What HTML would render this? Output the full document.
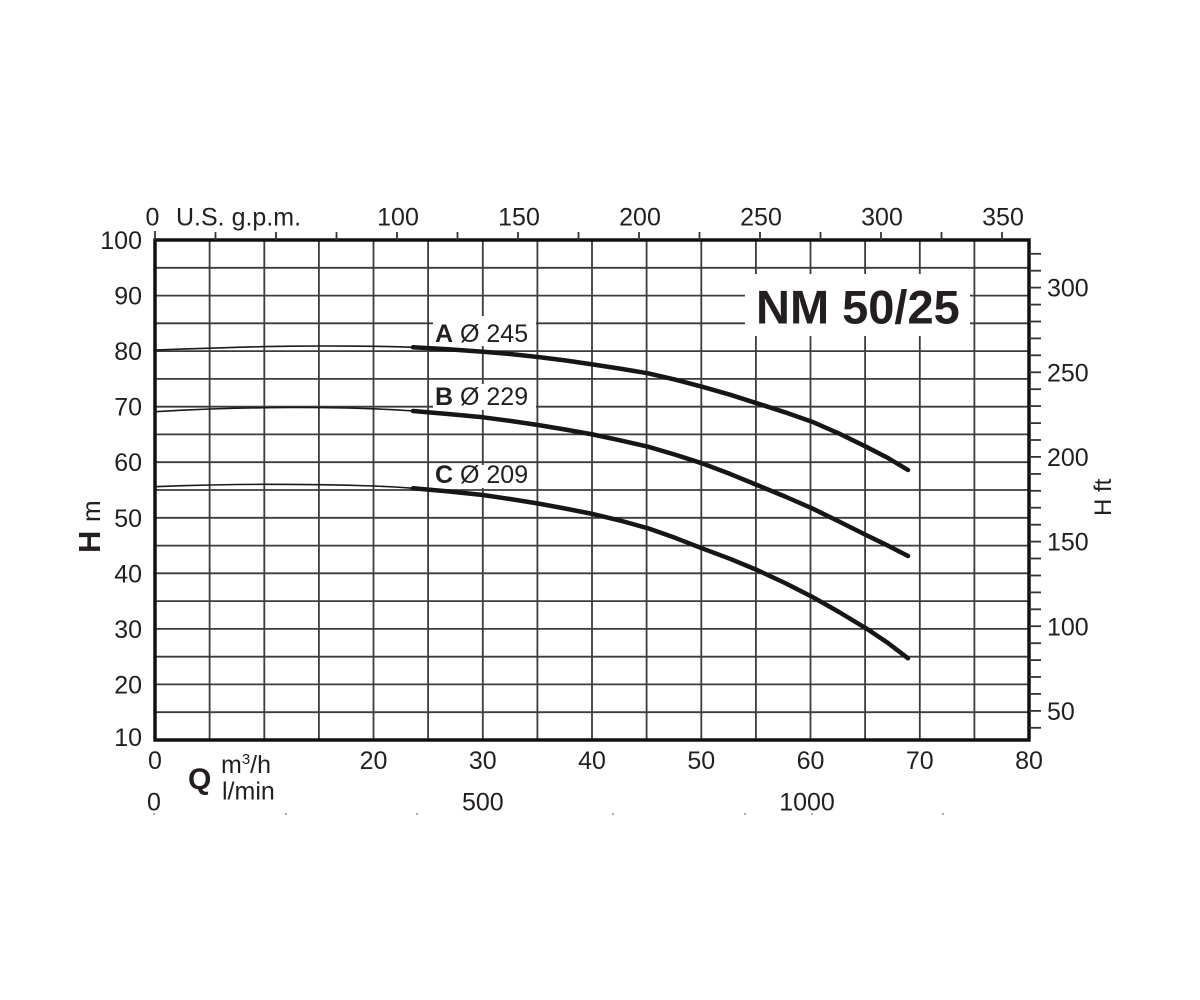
<!DOCTYPE html>
<html>
<head>
<meta charset="utf-8">
<style>
html,body{margin:0;padding:0;background:#fff;}
svg{display:block;}
text{font-family:"Liberation Sans",Arial,sans-serif;fill:#231f20;}
</style>
</head>
<body>
<svg width="1200" height="1000" viewBox="0 0 1200 1000" xmlns="http://www.w3.org/2000/svg">
<rect x="0" y="0" width="1200" height="1000" fill="#fff"/>

<!-- vertical grid lines every 5 m3/h -->
<g stroke="#3c3c3c" stroke-width="1.8">
<line x1="209.6" y1="240" x2="209.6" y2="740"/>
<line x1="264.3" y1="240" x2="264.3" y2="740"/>
<line x1="318.9" y1="240" x2="318.9" y2="740"/>
<line x1="373.5" y1="240" x2="373.5" y2="740"/>
<line x1="428.1" y1="240" x2="428.1" y2="740"/>
<line x1="482.8" y1="240" x2="482.8" y2="740"/>
<line x1="537.4" y1="240" x2="537.4" y2="740"/>
<line x1="592.0" y1="240" x2="592.0" y2="740"/>
<line x1="646.6" y1="240" x2="646.6" y2="740"/>
<line x1="701.3" y1="240" x2="701.3" y2="740"/>
<line x1="755.9" y1="240" x2="755.9" y2="740"/>
<line x1="810.5" y1="240" x2="810.5" y2="740"/>
<line x1="865.1" y1="240" x2="865.1" y2="740"/>
<line x1="919.8" y1="240" x2="919.8" y2="740"/>
<line x1="974.4" y1="240" x2="974.4" y2="740"/>
</g>
<!-- horizontal grid lines every 5 m -->
<g stroke="#3c3c3c" stroke-width="1.8">
<line x1="155" y1="267.8" x2="1029" y2="267.8"/>
<line x1="155" y1="295.6" x2="1029" y2="295.6"/>
<line x1="155" y1="323.3" x2="1029" y2="323.3"/>
<line x1="155" y1="351.1" x2="1029" y2="351.1"/>
<line x1="155" y1="378.9" x2="1029" y2="378.9"/>
<line x1="155" y1="406.7" x2="1029" y2="406.7"/>
<line x1="155" y1="434.4" x2="1029" y2="434.4"/>
<line x1="155" y1="462.2" x2="1029" y2="462.2"/>
<line x1="155" y1="490.0" x2="1029" y2="490.0"/>
<line x1="155" y1="517.8" x2="1029" y2="517.8"/>
<line x1="155" y1="545.6" x2="1029" y2="545.6"/>
<line x1="155" y1="573.3" x2="1029" y2="573.3"/>
<line x1="155" y1="601.1" x2="1029" y2="601.1"/>
<line x1="155" y1="628.9" x2="1029" y2="628.9"/>
<line x1="155" y1="656.7" x2="1029" y2="656.7"/>
<line x1="155" y1="684.4" x2="1029" y2="684.4"/>
<line x1="155" y1="712.2" x2="1029" y2="712.2"/>
</g>

<!-- white label boxes -->
<rect x="745" y="274" width="225" height="62" fill="#fff"/>
<rect x="433" y="316" width="103" height="30" fill="#fff"/>
<rect x="433" y="384" width="103" height="26" fill="#fff"/>
<rect x="433" y="465" width="103" height="23" fill="#fff"/>

<!-- frame -->
<rect x="155" y="240" width="874" height="500" fill="none" stroke="#111" stroke-width="3.5"/>

<!-- top gpm ticks -->
<g stroke="#333" stroke-width="1.8">
<line x1="155" y1="231" x2="155" y2="240"/>
<line x1="215.5" y1="232" x2="215.5" y2="240"/>
<line x1="276" y1="232" x2="276" y2="240"/>
<line x1="336.5" y1="232" x2="336.5" y2="240"/>
<line x1="397" y1="232" x2="397" y2="240"/>
<line x1="457.5" y1="232" x2="457.5" y2="240"/>
<line x1="518" y1="232" x2="518" y2="240"/>
<line x1="578.5" y1="232" x2="578.5" y2="240"/>
<line x1="639" y1="232" x2="639" y2="240"/>
<line x1="699.5" y1="232" x2="699.5" y2="240"/>
<line x1="760" y1="232" x2="760" y2="240"/>
<line x1="820.5" y1="232" x2="820.5" y2="240"/>
<line x1="881" y1="232" x2="881" y2="240"/>
<line x1="941.5" y1="232" x2="941.5" y2="240"/>
<line x1="1002" y1="232" x2="1002" y2="240"/>
</g>

<!-- right ft ticks, 40..320 ft -->
<g stroke="#333" stroke-width="1.8">
<line x1="1029" y1="727.8" x2="1041" y2="727.8"/>
<line x1="1029" y1="710.9" x2="1041" y2="710.9"/>
<line x1="1029" y1="693.9" x2="1041" y2="693.9"/>
<line x1="1029" y1="677.0" x2="1041" y2="677.0"/>
<line x1="1029" y1="660.1" x2="1041" y2="660.1"/>
<line x1="1029" y1="643.2" x2="1041" y2="643.2"/>
<line x1="1029" y1="626.2" x2="1041" y2="626.2"/>
<line x1="1029" y1="609.3" x2="1041" y2="609.3"/>
<line x1="1029" y1="592.4" x2="1041" y2="592.4"/>
<line x1="1029" y1="575.5" x2="1041" y2="575.5"/>
<line x1="1029" y1="558.5" x2="1041" y2="558.5"/>
<line x1="1029" y1="541.6" x2="1041" y2="541.6"/>
<line x1="1029" y1="524.7" x2="1041" y2="524.7"/>
<line x1="1029" y1="507.7" x2="1041" y2="507.7"/>
<line x1="1029" y1="490.8" x2="1041" y2="490.8"/>
<line x1="1029" y1="473.9" x2="1041" y2="473.9"/>
<line x1="1029" y1="456.9" x2="1041" y2="456.9"/>
<line x1="1029" y1="440.0" x2="1041" y2="440.0"/>
<line x1="1029" y1="423.1" x2="1041" y2="423.1"/>
<line x1="1029" y1="406.1" x2="1041" y2="406.1"/>
<line x1="1029" y1="389.2" x2="1041" y2="389.2"/>
<line x1="1029" y1="372.3" x2="1041" y2="372.3"/>
<line x1="1029" y1="355.3" x2="1041" y2="355.3"/>
<line x1="1029" y1="338.4" x2="1041" y2="338.4"/>
<line x1="1029" y1="321.5" x2="1041" y2="321.5"/>
<line x1="1029" y1="304.6" x2="1041" y2="304.6"/>
<line x1="1029" y1="287.6" x2="1041" y2="287.6"/>
<line x1="1029" y1="270.7" x2="1041" y2="270.7"/>
<line x1="1029" y1="253.8" x2="1041" y2="253.8"/>
</g>

<!-- curves thin part -->
<g fill="none" stroke="#1a1a1a" stroke-width="1.6" stroke-linejoin="round">
<polyline points="155,350 182,349.1 210,348.2 237,347.3 265,346.6 292,346.2 320,346 347,346.1 374,346.3 395,346.7 414,347.3"/>
<polyline points="155,411.7 182,410.2 210,409 237,408.2 265,407.7 292,407.5 320,407.6 347,408 374,408.8 395,409.8 414,411"/>
<polyline points="155,486.7 182,485.7 210,485 237,484.5 265,484.3 292,484.4 320,484.7 347,485.2 374,486 395,487 414,488.3"/>
</g>
<!-- curves thick part -->
<g fill="none" stroke="#161616" stroke-width="4.5" stroke-linejoin="round" stroke-linecap="round">
<polyline points="413,347.3 448,349.3 483,351.7 510,354 538,357 565,360.4 593,364.5 620,368.6 648,373.3 675,379.6 702,386.7 730,394.7 757,403.3 785,412.3 812,421.7 839,433.5 866,446.7 888,458 908,470"/>
<polyline points="413,411 448,414 483,417.3 510,420.9 538,425 565,429.5 593,434.5 620,440.3 648,446.7 675,454.6 702,463.3 730,473.9 757,485 785,496.5 812,508.3 839,521.5 866,535 888,545.7 908,556"/>
<polyline points="413,488.3 448,491.4 483,495 510,499 538,503.5 565,508.5 593,514 620,520.5 648,528.3 675,537.8 702,548.3 730,558.8 757,570 785,583 812,596.7 839,612 866,628.3 888,643 908,658.3"/>
</g>

<!-- curve labels -->
<text x="435" y="342" font-size="25"><tspan font-weight="bold">A</tspan> Ø 245</text>
<text x="435" y="405" font-size="25"><tspan font-weight="bold">B</tspan> Ø 229</text>
<text x="435" y="483" font-size="25"><tspan font-weight="bold">C</tspan> Ø 209</text>

<!-- title -->
<text x="756" y="323.5" font-size="47" font-weight="bold" fill="#1f1b1c">NM 50/25</text>

<!-- left axis labels -->
<g font-size="25" text-anchor="end">
<text x="142" y="249">100</text>
<text x="142" y="304.6">90</text>
<text x="142" y="360.1">80</text>
<text x="142" y="415.7">70</text>
<text x="142" y="471.2">60</text>
<text x="142" y="526.8">50</text>
<text x="142" y="582.3">40</text>
<text x="142" y="637.9">30</text>
<text x="142" y="693.4">20</text>
<text x="142" y="746">10</text>
</g>

<!-- bottom labels m3/h -->
<g font-size="25" text-anchor="middle">
<text x="155" y="769">0</text>
<text x="373.5" y="769">20</text>
<text x="482.8" y="769">30</text>
<text x="592" y="769">40</text>
<text x="701.3" y="769">50</text>
<text x="810.5" y="769">60</text>
<text x="919.8" y="769">70</text>
<text x="1029" y="769">80</text>
<text x="154" y="810.5">0</text>
<text x="482.8" y="810.5">500</text>
<text x="807" y="810.5">1000</text>
</g>
<text x="188" y="789" font-size="30" font-weight="bold">Q</text>
<text x="221" y="773" font-size="25">m<tspan font-size="15" dy="-9">3</tspan><tspan dy="9">/h</tspan></text>
<text x="222" y="799.5" font-size="25">l/min</text>

<!-- small dots -->
<g fill="#aaa">
<rect x="153" y="813" width="2" height="2"/>
<rect x="285" y="813" width="2" height="2"/>
<rect x="416" y="813" width="2" height="2"/>
<rect x="612" y="813" width="2" height="2"/>
<rect x="744" y="813" width="2" height="2"/>
<rect x="811" y="813" width="2" height="2"/>
<rect x="942" y="813" width="2" height="2"/>
</g>

<!-- top labels gpm -->
<g font-size="25" text-anchor="middle">
<text x="152.5" y="225.5">0</text>
<text x="398" y="225.5">100</text>
<text x="519" y="225.5">150</text>
<text x="640" y="225.5">200</text>
<text x="761" y="225.5">250</text>
<text x="882" y="225.5">300</text>
<text x="1003" y="225.5">350</text>
</g>
<text x="176" y="225.5" font-size="25">U.S. g.p.m.</text>

<!-- right labels ft -->
<g font-size="25">
<text x="1047" y="720">50</text>
<text x="1047" y="635.3">100</text>
<text x="1047" y="550.7">150</text>
<text x="1047" y="466">200</text>
<text x="1047" y="381.3">250</text>
<text x="1047" y="296.7">300</text>
</g>

<!-- axis titles -->
<text transform="translate(100,553) rotate(-90)" font-size="31" font-weight="bold">H</text>
<text transform="translate(100,522) rotate(-90)" font-size="26">m</text>
<text transform="translate(1111,516) rotate(-90)" font-size="24">H ft</text>
</svg>
</body>
</html>
